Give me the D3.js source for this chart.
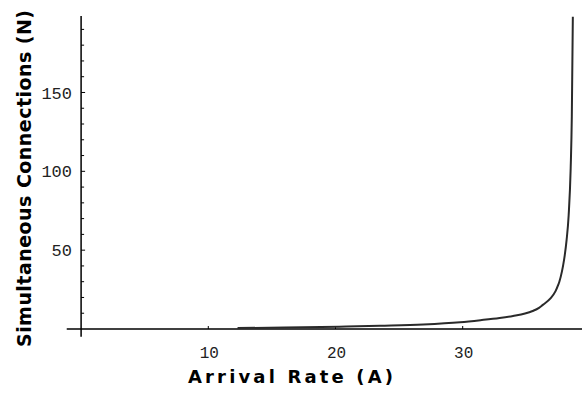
<!DOCTYPE html>
<html>
<head>
<meta charset="utf-8">
<script src="https://cdn.jsdelivr.net/npm/d3@7"></script>
<style>
  body { margin: 0; background: #fff; }
  svg { display: block; }
</style>
</head>
<body>
<svg id="chart"></svg>
<script>
// values: arrival rate A and simultaneous connections N
const arrivalRate = [12.3, 16, 20.3, 23.5, 26.9, 29.8, 31.4, 32.9, 33.96, 34.9, 35.5, 36.0, 36.3, 36.9, 37.3, 37.5, 37.6, 37.8, 37.9, 38.02, 38.17, 38.33, 38.49, 38.58, 38.66];
const connections = [0.6, 0.9, 1.5, 2.1, 2.9, 4.3, 5.6, 7.0, 8.3, 9.8, 11.4, 13.4, 15.3, 19.4, 24.0, 27.8, 30.0, 36.4, 40.5, 46.5, 56.5, 72, 102, 135, 198];

const xTicks = [10, 20, 30];
const yTicks = [50, 100, 150];
const yMinorTicks = d3.range(10, 200, 10);

const xTitle = "Arrival Rate (A)";
const yTitle = "Simultaneous Connections (N)";

var width = 582, height = 396;

const svg = d3.select("#chart")
	.attr("width", width)
	.attr("height", height);

// scales: 0 sits on the y axis, plot runs out to the right edge
var x = d3.scaleLinear()
	.domain([0, 39.38])
	.range([81.1, 582]);

var y = d3.scaleLinear()
	.domain([0, 198.5])
	.range([329, 16]);

// axis lines (Mathematica style, crossing at the origin)
svg.append("line")
	.attr("x1", x(-1.13)).attr("x2", x(39.4))
	.attr("y1", y(0)).attr("y2", y(0))
	.attr("stroke", "#000")
	.attr("stroke-width", 1.5);

svg.append("line")
	.attr("x1", x(0)).attr("x2", x(0))
	.attr("y1", y(-4.9)).attr("y2", y(198.5))
	.attr("stroke", "#000")
	.attr("stroke-width", 1.5);

// y ticks
svg.append("g")
	.selectAll("line")
	.data(yMinorTicks)
	.join("line")
	.attr("x1", x(0))
	.attr("x2", d => x(0) + (d % 50 === 0 ? 4 : 3))
	.attr("y1", d => y(d))
	.attr("y2", d => y(d))
	.attr("stroke", "#000")
	.attr("stroke-width", 1);

svg.append("g")
	.selectAll("text")
	.data(yTicks)
	.join("text")
	.attr("x", 72)
	.attr("y", d => y(d))
	.attr("dy", "0.36em")
	.attr("text-anchor", "end")
	.style("font-family", "'Liberation Mono', monospace")
	.style("font-size", "17px")
	.style("fill", "#222")
	.text(d => d);

// x ticks
svg.append("g")
	.selectAll("line")
	.data(xTicks)
	.join("line")
	.attr("x1", d => x(d))
	.attr("x2", d => x(d))
	.attr("y1", y(0))
	.attr("y2", y(0) - 3)
	.attr("stroke", "#000")
	.attr("stroke-width", 1);

svg.append("g")
	.selectAll("text")
	.data(xTicks)
	.join("text")
	.attr("x", d => x(d) + 1)
	.attr("y", 352)
	.attr("dy", "0.36em")
	.attr("text-anchor", "middle")
	.style("font-family", "'Liberation Mono', monospace")
	.style("font-size", "16px")
	.style("fill", "#222")
	.text(d => d);

// curve
const points = arrivalRate.map((a, i) => [a, connections[i]]);
svg.append("path")
	.datum(points)
	.attr("d", d3.line().x(d => x(d[0])).y(d => y(d[1])).curve(d3.curveMonotoneX))
	.attr("fill", "none")
	.attr("stroke", "#2a2a2a")
	.attr("stroke-width", 2);

// titles
svg.append("text")
	.attr("x", 188)
	.attr("y", 383)
	.attr("textLength", 205)
	.attr("lengthAdjust", "spacing")
	.style("font-family", "'DejaVu Sans', sans-serif")
	.style("font-weight", "bold")
	.style("font-size", "18px")
	.text(xTitle);

svg.append("text")
	.attr("transform", "translate(31, 347) rotate(-90)")
	.attr("textLength", 337)
	.attr("lengthAdjust", "spacing")
	.style("font-family", "'DejaVu Sans', sans-serif")
	.style("font-weight", "bold")
	.style("font-size", "19px")
	.text(yTitle);
</script>
</body>
</html>
